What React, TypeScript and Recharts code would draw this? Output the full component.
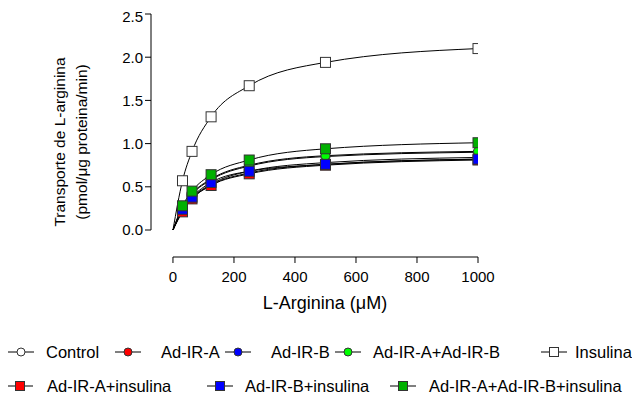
import React from "react";
import {
  ComposedChart,
  Line,
  Scatter,
  XAxis,
  YAxis,
  ReferenceLine,
  Legend,
} from "recharts";

// L-arginine concentrations (uM)
const conc = [31.25, 62.5, 125, 250, 500, 1000];

// transport values (pmol/ug protein/min)
const control = [0.25, 0.41, 0.58, 0.74, 0.85, 0.9];
const adIRA = [0.22, 0.36, 0.52, 0.66, 0.76, 0.82];
const adIRB = [0.23, 0.37, 0.53, 0.68, 0.78, 0.84];
const adIRAB = [0.26, 0.42, 0.59, 0.75, 0.86, 0.91];
const insulina = [0.57, 0.91, 1.31, 1.67, 1.94, 2.1];
const adIRAIns = [0.21, 0.36, 0.515, 0.65, 0.75, 0.81];
const adIRBIns = [0.24, 0.38, 0.55, 0.68, 0.76, 0.82];
const adIRABIns = [0.28, 0.45, 0.64, 0.81, 0.94, 1.01];

const xTicks = [0, 200, 400, 600, 800, 1000];
const yTicks = [0, 0.5, 1, 1.5, 2, 2.5];

const X_MIN = -72;
const Y_MIN = -0.3125;
const FONT = "'Liberation Sans', Arial, sans-serif";

type Kind = "circle" | "square";

const series: { name: string; values: number[]; kind: Kind; fill: string }[] = [
  { name: "Control", values: control, kind: "circle", fill: "#ffffff" },
  { name: "Ad-IR-A", values: adIRA, kind: "circle", fill: "#ff0000" },
  { name: "Ad-IR-B", values: adIRB, kind: "circle", fill: "#0000ff" },
  { name: "Ad-IR-A+Ad-IR-B", values: adIRAB, kind: "circle", fill: "#00ff00" },
  { name: "Insulina", values: insulina, kind: "square", fill: "#ffffff" },
  { name: "Ad-IR-A+insulina", values: adIRAIns, kind: "square", fill: "#ff0000" },
  { name: "Ad-IR-B+insulina", values: adIRBIns, kind: "square", fill: "#0000ff" },
  { name: "Ad-IR-A+Ad-IR-B+insulina", values: adIRABIns, kind: "square", fill: "#00b000" },
];

const toPoints = (vals: number[]) => conc.map((x, i) => ({ x, y: vals[i] }));

const marker = (kind: Kind, fill: string) => (props: any) => {
  const { cx, cy } = props;
  if (cx == null || cy == null) return <g />;
  if (kind === "square")
    return (
      <rect x={cx - 5} y={cy - 5} width={10} height={10} fill={fill} stroke="#333" strokeWidth={1} />
    );
  return <circle cx={cx} cy={cy} r={4.5} fill={fill} stroke="#333" strokeWidth={1} />;
};

// legend placement: [symbol centre x, text left x, row y] in chart coords
const legendPos: [number, number, number][] = [
  [13, 38, 17],
  [120, 153, 17],
  [230, 263, 17],
  [340, 365, 17],
  [546, 567, 17],
  [12, 39, 51],
  [212, 237, 51],
  [395, 421, 51],
];

const renderLegend = () => (
  <div style={{ position: "relative", width: 632, height: 70, fontFamily: FONT, fontSize: 16.5 }}>
    {series.map((s, i) => {
      const [sx, tx, ry] = legendPos[i];
      return (
        <React.Fragment key={s.name}>
          <svg
            width={26}
            height={20}
            style={{ position: "absolute", left: sx - 13, top: ry - 10, overflow: "visible" }}
          >
            <line x1={0} x2={26} y1={10} y2={10} stroke="#000" strokeWidth={1} />
            {s.kind === "square" ? (
              <rect x={8.5} y={5.5} width={9} height={9} fill={s.fill} stroke="#333" />
            ) : (
              <circle cx={13} cy={10} r={4} fill={s.fill} stroke="#333" />
            )}
          </svg>
          <span
            style={{
              position: "absolute",
              left: tx,
              top: ry - 11,
              lineHeight: "22px",
              whiteSpace: "nowrap",
              color: "#000",
            }}
          >
            {s.name}
          </span>
        </React.Fragment>
      );
    })}
  </div>
);

export default function App() {
  return (
    <ComposedChart
      width={632}
      height={397}
      margin={{ top: 6, right: 162, left: 0, bottom: 0 }}
      style={{ fontFamily: FONT }}
    >
      <XAxis
        type="number"
        dataKey="x"
        domain={[X_MIN, 1000]}
        ticks={xTicks}
        allowDataOverflow
        axisLine={false}
        tickLine={{ stroke: "#000" }}
        tickSize={6}
        tickMargin={8}
        height={78}
        tick={{ fill: "#000", fontSize: 15 }}
        label={{
          content: () => (
            <text
              x={317}
              y={295}
              textAnchor="middle"
              dominantBaseline="central"
              fontSize={18}
              fill="#000"
            >
              L-Arginina (μM)
            </text>
          ),
        }}
      />
      <YAxis
        type="number"
        domain={[Y_MIN, 2.5]}
        ticks={yTicks}
        allowDataOverflow
        axisLine={false}
        tickLine={{ stroke: "#000" }}
        tickSize={6}
        width={143}
        tickFormatter={(v: number) => v.toFixed(1)}
        tick={{ fill: "#000", fontSize: 15 }}
        label={{
          content: () => (
            <g fontSize={15.5} fill="#000">
              <text
                x={51}
                y={134}
                textAnchor="middle"
                dominantBaseline="central"
                transform="rotate(-90 51 134)"
              >
                Transporte de L-arginina
              </text>
              <text
                x={73}
                y={134}
                textAnchor="middle"
                dominantBaseline="central"
                transform="rotate(-90 73 134)"
              >
                (pmol/μg proteina/min)
              </text>
            </g>
          ),
        }}
      />
      <ReferenceLine
        segment={[
          { x: X_MIN, y: 0 },
          { x: X_MIN, y: 2.5 },
        ]}
        stroke="#000"
        ifOverflow="visible"
      />
      <ReferenceLine
        segment={[
          { x: 0, y: Y_MIN },
          { x: 1000, y: Y_MIN },
        ]}
        stroke="#000"
        ifOverflow="visible"
      />
      {series.map((s) => (
        <Line
          key={"curve-" + s.name}
          data={[{ x: 0, y: 0 }, ...toPoints(s.values)]}
          dataKey="y"
          type="monotone"
          stroke="#000"
          strokeWidth={1}
          dot={false}
          activeDot={false}
          legendType="none"
          isAnimationActive={false}
        />
      ))}
      {series.map((s) => (
        <Scatter
          key={"pts-" + s.name}
          name={s.name}
          data={toPoints(s.values)}
          dataKey="y"
          shape={marker(s.kind, s.fill)}
          isAnimationActive={false}
        />
      ))}
      <Legend
        verticalAlign="bottom"
        content={renderLegend}
        wrapperStyle={{ left: 0, width: 632, height: 70 }}
      />
    </ComposedChart>
  );
}
